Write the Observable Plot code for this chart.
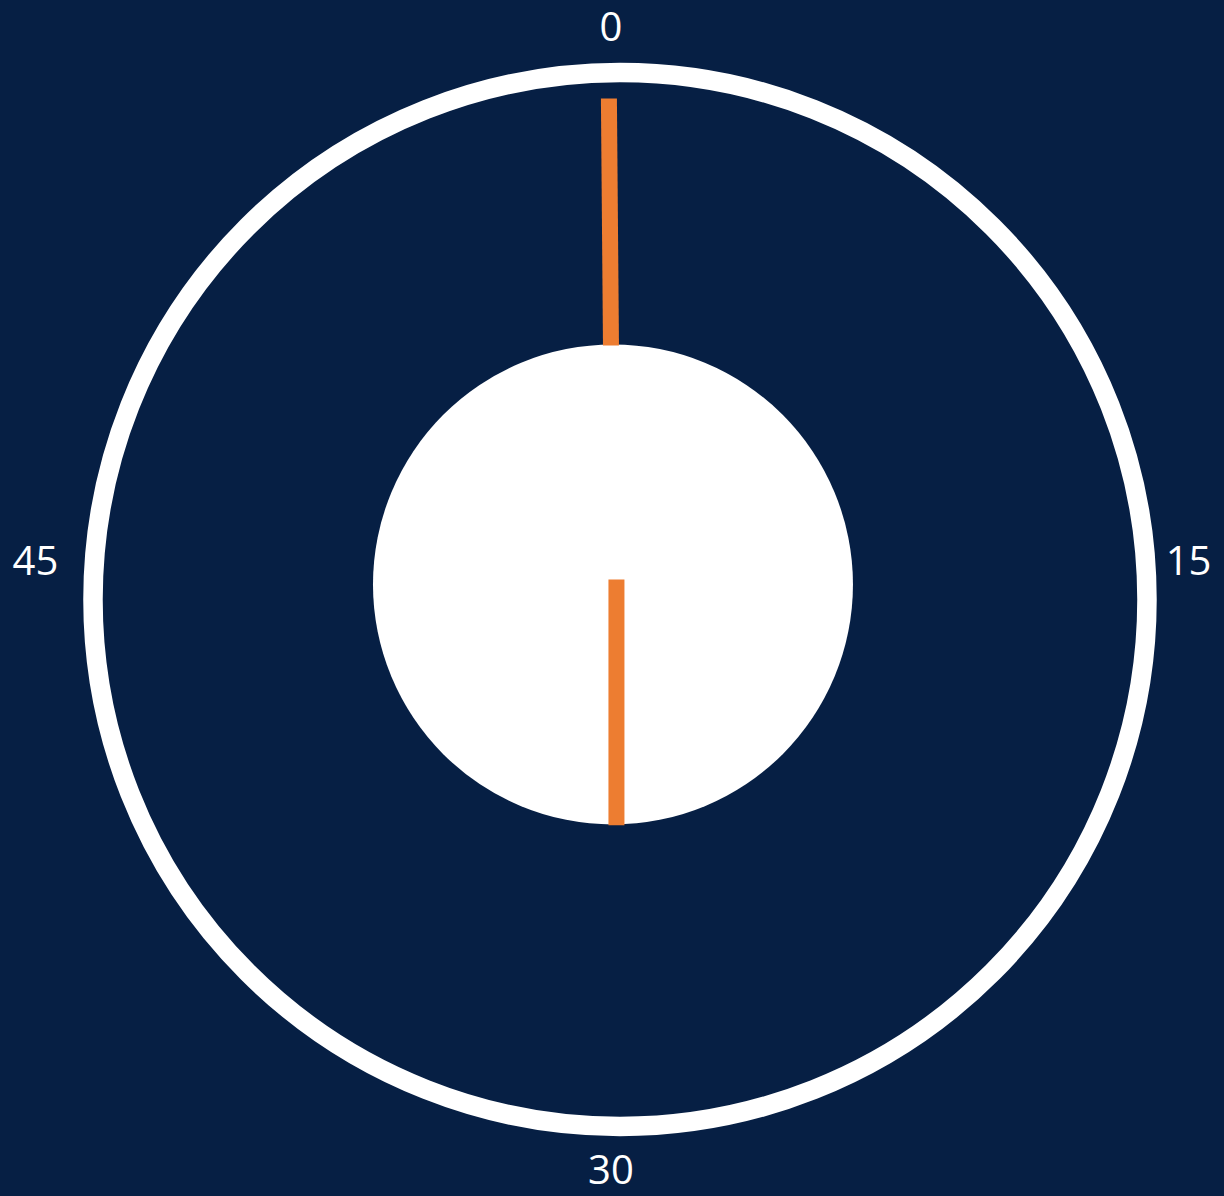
<!DOCTYPE html>
<html>
<head>
<meta charset="utf-8">
<script src="https://cdn.jsdelivr.net/npm/d3@7"></script>
<script src="https://cdn.jsdelivr.net/npm/@observablehq/plot@0.6"></script>
<style>
  html, body { margin: 0; padding: 0; background: #061f44; overflow: hidden; }
  #chart svg { display: block; }
</style>
</head>
<body>
<div id="chart"></div>
<script>
// ---- data (clock units: outer ring radius = 1) ----
const tickMinutes = [0, 15, 30, 45];
const tickLabels = ["0", "15", "30", "45"];
const tickSide = ["v", "h", "v", "h"];

const ringRadius = [1];
const dialRadius = [0.4554];
const dialCenterX = [-0.0133];
const dialCenterY = [0.0285];

const handNames = ["outer", "center"];
const handMinutes = [59.92, 30];
const handFrom = [0.4535, -0.0095];
const handTo = [0.9222, 0.457];
const handPivotX = [-0.0133, -0.0067];
const handPivotY = [0.0285, 0.0285];

const labelRadiusV = 1.084;
const labelRadiusH = 1.094;

// ---- helpers ----
const W = 1224, H = 1196;
const xDomain = [-1.1755, 1.1471];
const yDomain = [-1.1328, 1.1366];
const U = W / (xDomain[1] - xDomain[0]); // px per unit

const ang = m => (m / 60) * 2 * Math.PI;
const polar = (cx, cy, r, m) => [cx + r * Math.sin(ang(m)), cy + r * Math.cos(ang(m))];

const ticks = tickMinutes.map((m, i) => {
  const r = tickSide[i] === "v" ? labelRadiusV : labelRadiusH;
  const [x, y] = polar(0, 0, r, m);
  return {x, y, label: tickLabels[i], side: tickSide[i]};
});

const hands = handNames.map((n, i) => {
  const [x1, y1] = polar(handPivotX[i], handPivotY[i], handFrom[i], handMinutes[i]);
  const [x2, y2] = polar(handPivotX[i], handPivotY[i], handTo[i], handMinutes[i]);
  return {name: n, x1, y1, x2, y2};
});

const ring = ringRadius.map(r => ({x: 0, y: 0, r}));
const dial = dialRadius.map((r, i) => ({x: dialCenterX[i], y: dialCenterY[i], r}));

const font = "'Open Sans', 'Noto Sans', sans-serif";

const chart = Plot.plot({
  width: W,
  height: H,
  margin: 0,
  x: {domain: xDomain, axis: null},
  y: {domain: yDomain, axis: null},
  style: {background: "#061f44", fontFamily: font},
  marks: [
    Plot.dot(ring, {x: "x", y: "y", r: ringRadius[0] * U, fill: "none", stroke: "white", strokeWidth: 19.5}),
    Plot.dot(dial, {x: "x", y: "y", r: dialRadius[0] * U, fill: "white", stroke: "none"}),
    Plot.link(hands, {x1: "x1", y1: "y1", x2: "x2", y2: "y2", stroke: "#ed7d31", strokeWidth: 16, strokeLinecap: "butt"}),
    Plot.text(ticks.filter(d => d.side === "v"), {x: "x", y: "y", text: "label", fill: "white", fontSize: 40, dx: -9}),
    Plot.text(ticks.filter(d => d.side === "h"), {x: "x", y: "y", text: "label", fill: "white", fontSize: 40, dx: -8, dy: -37})
  ]
});
document.getElementById("chart").appendChild(chart);
</script>
</body>
</html>
